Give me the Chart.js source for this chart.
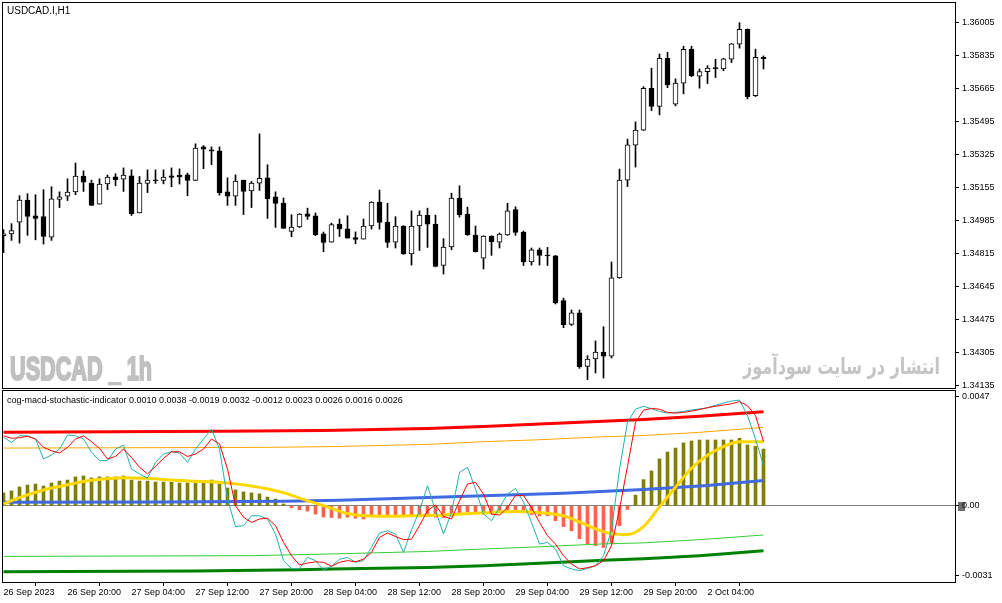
<!DOCTYPE html>
<html><head><meta charset="utf-8">
<script src="https://cdn.jsdelivr.net/npm/chart.js@4.4.0/dist/chart.umd.min.js"></script>
<style>
html,body{margin:0;padding:0;background:#fff;}
#wrap{position:relative;width:1002px;height:603px;overflow:hidden;background:#fff;}
canvas{position:absolute;left:0;}
#c1{top:0;}
#c2{top:389px;}
.t{position:absolute;white-space:nowrap;line-height:1;}
#title{left:7px;top:5px;font:10px "Liberation Sans",Arial,sans-serif;color:#000;}
#ind{left:7px;top:395px;font:9px "Liberation Sans",Arial,sans-serif;color:#000;}
#wm1{left:10px;top:350px;font:bold 33px "Liberation Sans",Arial,sans-serif;color:#c0c0c0;-webkit-text-stroke:2px #c0c0c0;transform-origin:0 0;}
#wm2{left:743px;top:354px;font:bold 22px "DejaVu Sans",sans-serif;color:#c4c4c4;transform-origin:0 0;}
</style></head>
<body>
<div id="wrap">
<canvas id="c1" width="1002" height="390"></canvas>
<canvas id="c2" width="1002" height="214"></canvas>
<div class="t" id="title"></div>
<div class="t" id="ind"></div>
<div class="t" id="wm1"></div>
<div class="t" id="wm2" dir="rtl"></div>
</div>
<script>
// ---------- DATA ----------
const symbolTitle = 'USDCAD.I,H1';
const watermarkLeft = 'USDCAD _ 1h';
const watermarkRight = 'انتشار در سایت سودآموز';
const indicatorName = 'cog-macd-stochastic-indicator';
const indicatorValues = ['0.0010','0.0038','-0.0019','0.0032','-0.0012','0.0023','0.0026','0.0016','0.0026'];

const opens = [1.34908,1.34917,1.34978,1.35091,1.35011,1.35006,1.34901,1.35095,1.35112,1.35133,1.35215,1.35179,1.35071,1.35174,1.35211,1.35199,1.35216,1.35025,1.35177,1.35196,1.35192,1.35216,1.35220,1.35221,1.35192,1.35365,1.35350,1.35345,1.35134,1.35112,1.35194,1.35138,1.35179,1.35206,1.35108,1.35076,1.34930,1.34953,1.35021,1.35011,1.34918,1.34875,1.34968,1.34943,1.34898,1.34891,1.34958,1.35081,1.34978,1.34875,1.34958,1.34814,1.34958,1.35014,1.34968,1.34755,1.34850,1.35102,1.35020,1.34912,1.34793,1.34906,1.34875,1.34912,1.35042,1.34927,1.34773,1.34836,1.34809,1.34805,1.34574,1.34452,1.34512,1.34236,1.34274,1.34310,1.34288,1.34691,1.35194,1.35374,1.35451,1.35667,1.35573,1.35821,1.35585,1.35693,1.35867,1.35729,1.35752,1.35770,1.35766,1.35816,1.35893,1.35970,1.35629,1.35826];
const highs = [1.34939,1.34970,1.35114,1.35124,1.35119,1.35145,1.35160,1.35134,1.35201,1.35282,1.35242,1.35194,1.35201,1.35220,1.35227,1.35257,1.35247,1.35213,1.35247,1.35247,1.35247,1.35257,1.35252,1.35230,1.35381,1.35372,1.35365,1.35365,1.35206,1.35221,1.35194,1.35187,1.35432,1.35273,1.35134,1.35102,1.35016,1.35022,1.35050,1.35025,1.34927,1.34973,1.34994,1.35011,1.34928,1.34994,1.35083,1.35143,1.35075,1.35006,1.34960,1.35036,1.35036,1.35050,1.35014,1.34893,1.35127,1.35165,1.35055,1.34958,1.34908,1.34908,1.34922,1.35075,1.35057,1.34932,1.34845,1.34845,1.34848,1.34807,1.34587,1.34526,1.34526,1.34291,1.34367,1.34440,1.34773,1.35251,1.35405,1.35494,1.35675,1.35770,1.35843,1.35852,1.35715,1.35883,1.35883,1.35766,1.35783,1.35816,1.35821,1.35897,1.36004,1.35972,1.35868,1.35833];
const lows = [1.34821,1.34884,1.34870,1.34910,1.34887,1.34865,1.34884,1.35053,1.35089,1.35119,1.35136,1.35064,1.35071,1.35145,1.35165,1.35136,1.35012,1.35025,1.35130,1.35177,1.35175,1.35160,1.35174,1.35114,1.35192,1.35253,1.35274,1.35117,1.35064,1.35064,1.35017,1.35053,1.35141,1.34997,1.34951,1.34946,1.34903,1.34950,1.34992,1.34908,1.34826,1.34875,1.34904,1.34895,1.34867,1.34891,1.34942,1.34942,1.34848,1.34845,1.34812,1.34757,1.34832,1.34848,1.34748,1.34711,1.34836,1.35004,1.34910,1.34824,1.34737,1.34807,1.34845,1.34910,1.34910,1.34755,1.34757,1.34757,1.34755,1.34557,1.34435,1.34446,1.34226,1.34168,1.34202,1.34176,1.34279,1.34689,1.35161,1.35261,1.35449,1.35552,1.35530,1.35670,1.35576,1.35638,1.35727,1.35667,1.35691,1.35722,1.35757,1.35799,1.35873,1.35612,1.35624,1.35766];
const closes = [1.34918,1.34934,1.35091,1.35007,1.34997,1.34904,1.35098,1.35108,1.35133,1.35215,1.35184,1.35064,1.35174,1.35210,1.35197,1.35220,1.35021,1.35179,1.35194,1.35191,1.35210,1.35208,1.35211,1.35192,1.35359,1.35354,1.35343,1.35130,1.35111,1.35189,1.35136,1.35179,1.35204,1.35099,1.35074,1.34946,1.34953,1.35020,1.35007,1.34913,1.34874,1.34965,1.34943,1.34895,1.34889,1.34958,1.35081,1.34976,1.34874,1.34958,1.34814,1.34958,1.35014,1.34968,1.34750,1.34850,1.35102,1.35017,1.34912,1.34826,1.34906,1.34878,1.34917,1.35036,1.34925,1.34773,1.34836,1.34807,1.34804,1.34562,1.34450,1.34511,1.34235,1.34274,1.34310,1.34288,1.34691,1.35194,1.35376,1.35451,1.35667,1.35573,1.35821,1.35684,1.35693,1.35867,1.35730,1.35752,1.35770,1.35768,1.35818,1.35895,1.35970,1.35624,1.35826,1.35819];

const priceTicks = [1.36005,1.35835,1.35665,1.35495,1.35325,1.35155,1.34985,1.34815,1.34645,1.34475,1.34305,1.34135];
const timeTickIdx = [0,8,16,24,32,40,48,56,64,72,80,88];
const timeTickLabels = ['26 Sep 2023','26 Sep 20:00','27 Sep 04:00','27 Sep 12:00','27 Sep 20:00','28 Sep 04:00','28 Sep 12:00','28 Sep 20:00','29 Sep 04:00','29 Sep 12:00','29 Sep 20:00','2 Oct 04:00'];

const macdHist = [0.00052,0.00060,0.00076,0.00084,0.00088,0.00080,0.00092,0.00100,0.00104,0.00117,0.00121,0.00113,0.00117,0.00117,0.00117,0.00121,0.00104,0.00100,0.00100,0.00096,0.00096,0.00096,0.00092,0.00092,0.00092,0.00100,0.00104,0.00088,0.00072,0.00064,0.00056,0.00052,0.00048,0.00035,0.00027,0.00007,-0.00009,-0.00017,-0.00022,-0.00034,-0.00046,-0.00048,-0.00051,-0.00047,-0.00051,-0.00054,-0.00041,-0.00041,-0.00045,-0.00045,-0.00045,-0.00045,-0.00041,-0.00045,-0.00047,-0.00048,-0.00043,-0.00030,-0.00026,-0.00033,-0.00034,-0.00034,-0.00027,-0.00017,-0.00016,-0.00027,-0.00037,-0.00041,-0.00041,-0.00061,-0.00085,-0.00102,-0.00134,-0.00154,-0.00162,-0.00170,-0.00150,-0.00081,-0.00015,0.00043,0.00106,0.00141,0.00190,0.00218,0.00234,0.00255,0.00263,0.00267,0.00267,0.00267,0.00267,0.00267,0.00274,0.00247,0.00241,0.00230];
const macdSignal = [[0,0.00007],[2,0.00033],[5,0.00064],[8,0.00085],[11,0.00103],[15,0.00114],[18,0.00111],[21,0.00104],[25,0.00098],[28,0.00092],[31,0.00080],[35,0.00053],[37,0.00031],[40,0.00000],[41,-0.00011],[43,-0.00032],[47,-0.00043],[51,-0.00041],[55,-0.00038],[60,-0.00029],[64,-0.00024],[68,-0.00031],[70,-0.00041],[72,-0.00066],[74,-0.00094],[76,-0.00114],[78,-0.00117],[80,-0.00085],[82,-0.00005],[84,0.00075],[86,0.00152],[88,0.00205],[90,0.00240],[92,0.00260],[95,0.00260]];
const stochMain = [0.00278,0.00257,0.00284,0.00284,0.00271,0.00190,0.00206,0.00230,0.00287,0.00284,0.00271,0.00217,0.00183,0.00183,0.00230,0.00246,0.00149,0.00129,0.00112,0.00176,0.00210,0.00219,0.00214,0.00176,0.00230,0.00271,0.00311,0.00230,0.00027,-0.00085,-0.00081,-0.00041,-0.00041,-0.00054,-0.00115,-0.00223,-0.00255,-0.00255,-0.00210,-0.00223,-0.00260,-0.00246,-0.00218,-0.00210,-0.00230,-0.00223,-0.00169,-0.00111,-0.00102,-0.00115,-0.00190,-0.00098,-0.00020,0.00081,-0.00020,-0.00115,-0.00027,0.00135,0.00156,0.00068,-0.00034,-0.00061,-0.00007,0.00047,0.00070,0.00014,-0.00068,-0.00156,-0.00149,-0.00176,-0.00244,-0.00257,-0.00264,-0.00255,-0.00244,-0.00203,-0.00100,0.00148,0.00339,0.00392,0.00404,0.00394,0.00383,0.00376,0.00379,0.00383,0.00389,0.00393,0.00398,0.00408,0.00417,0.00425,0.00429,0.00366,0.00271,0.00163];
const stochSignal = [0.00284,0.00274,0.00276,0.00282,0.00271,0.00237,0.00223,0.00214,0.00237,0.00271,0.00284,0.00260,0.00233,0.00190,0.00200,0.00230,0.00196,0.00156,0.00129,0.00160,0.00192,0.00219,0.00219,0.00200,0.00210,0.00230,0.00271,0.00251,0.00149,0.00000,-0.00047,-0.00068,-0.00054,-0.00051,-0.00081,-0.00149,-0.00203,-0.00241,-0.00233,-0.00228,-0.00230,-0.00246,-0.00230,-0.00223,-0.00228,-0.00217,-0.00190,-0.00129,-0.00111,-0.00125,-0.00138,-0.00136,-0.00081,-0.00020,0.00003,-0.00043,-0.00054,0.00020,0.00088,0.00095,0.00047,-0.00034,-0.00038,-0.00007,0.00041,0.00041,-0.00007,-0.00068,-0.00122,-0.00156,-0.00203,-0.00237,-0.00257,-0.00252,-0.00244,-0.00223,-0.00163,-0.00014,0.00160,0.00338,0.00388,0.00395,0.00392,0.00379,0.00376,0.00379,0.00384,0.00391,0.00398,0.00404,0.00409,0.00414,0.00423,0.00406,0.00366,0.00261];

const cogCenter = [[0,0.00014],[20,0.00015],[35,0.00018],[42,0.00022],[50,0.00030],[60,0.00040],[70,0.00051],[80,0.00066],[88,0.00082],[95,0.00102]];
const cogUpperOuter = [[0,0.00298],[27,0.00302],[40,0.00305],[53,0.00314],[60,0.00322],[67,0.00332],[75,0.00343],[80,0.00350],[87,0.00363],[95,0.00382]];
const cogUpperInner = [[0,0.00234],[33,0.00237],[41,0.00240],[53,0.00249],[60,0.00260],[67,0.00268],[75,0.00280],[80,0.00285],[87,0.00298],[95,0.00318]];
const cogLowerInner = [[0,-0.00206],[31,-0.00203],[41,-0.00196],[53,-0.00186],[60,-0.00176],[67,-0.00167],[75,-0.00155],[80,-0.00151],[87,-0.00138],[95,-0.00119]];
const cogLowerOuter = [[0,-0.00268],[24,-0.00265],[37,-0.00260],[41,-0.00257],[53,-0.00251],[60,-0.00244],[67,-0.00234],[75,-0.00222],[80,-0.00216],[87,-0.00203],[95,-0.00183]];

const lowerTickVals = [0.00444, 0, -0.00282];
const lowerTickLabels = ['0.0047', '0.00', '-0.0031'];

// ---------- TEXT ----------
document.getElementById('title').textContent = symbolTitle;
document.getElementById('ind').textContent = indicatorName + ' ' + indicatorValues.join(' ');
document.getElementById('wm1').textContent = watermarkLeft;
document.getElementById('wm2').textContent = watermarkRight;
function fitWidth(id, w){
  const el = document.getElementById(id);
  el.style.transform = 'none';
  const cw = el.getBoundingClientRect().width;
  if (cw > 0) el.style.transform = 'scaleX(' + (w / cw) + ')';
}
fitWidth('wm1', 142); fitWidth('wm2', 197);
if (document.fonts && document.fonts.ready) document.fonts.ready.then(()=>{fitWidth('wm1',142); fitWidth('wm2',197);});

// ---------- CHARTS ----------
Chart.defaults.font.family = '"Liberation Sans", Arial, sans-serif';
Chart.defaults.color = '#000';
const xMin = -0.1875, xMax = xMin + 953 / 8;
const tickFont = {family:'"Liberation Sans", Arial, sans-serif', size:9};

const framePlugin = {
  id:'frame',
  afterDraw(chart){
    const {ctx, chartArea:a} = chart;
    ctx.save();
    ctx.strokeStyle = '#000'; ctx.lineWidth = 1;
    ctx.strokeRect(Math.round(a.left)+0.5, Math.round(a.top)+0.5, Math.round(a.right-a.left), Math.round(a.bottom-a.top));
    ctx.restore();
  }
};
const zeroBoxPlugin = {
  id:'zerobox',
  beforeDraw(chart){
    const y = chart.scales.y.getPixelForValue(0);
    const ctx = chart.ctx;
    ctx.save(); ctx.fillStyle = '#6e6e6e';
    ctx.fillRect(chart.chartArea.right + 3, Math.round(y) - 4, 7, 9);
    ctx.restore();
  }
};
function noPad(s){ s.paddingTop = 0; s.paddingBottom = 0; s.paddingLeft = 0; s.paddingRight = 0; }

const idx = opens.map((_, i) => i);
new Chart(document.getElementById('c1'), {
  type:'bar',
  data:{datasets:[
    {data: idx.map(i => ({x:i, y:[lows[i], highs[i]]})), backgroundColor:'#000', borderWidth:0, barThickness:1, grouped:false, order:2, minBarLength:1},
    {data: idx.map(i => ({x:i, y:[Math.min(opens[i], closes[i]), Math.max(opens[i], closes[i])]})),
     backgroundColor: c => closes[c.dataIndex] >= opens[c.dataIndex] ? '#ffffff' : '#000000',
     borderColor:'#000', borderWidth:1, borderSkipped:false, barThickness:5, grouped:false, order:1, minBarLength:1}
  ]},
  options:{
    responsive:false, animation:false, devicePixelRatio:1,
    layout:{padding:{left:2, top:2, bottom:2, right:0}},
    plugins:{legend:{display:false}, tooltip:{enabled:false}},
    scales:{
      x:{type:'linear', min:xMin, max:xMax, display:false, offset:false},
      y:{position:'right', min:1.341247, max:1.361105,
         afterFit(s){ s.width = 47; noPad(s); },
         afterBuildTicks(s){ s.ticks = priceTicks.map(v => ({value:v})); },
         ticks:{callback:v => Number(v).toFixed(5), padding:3, color:'#000', font:tickFont, autoSkip:false},
         grid:{display:true, drawOnChartArea:false, drawTicks:true, tickLength:4, color:'#000', tickColor:'#000'},
         border:{display:false}}
    }
  },
  plugins:[framePlugin]
});

const pts = arr => arr.map(([x, y]) => ({x, y}));
const line = (data, color, width, order, extra) => Object.assign({type:'line', data, borderColor:color, borderWidth:width, pointRadius:0, fill:false, tension:0, order}, extra || {});

new Chart(document.getElementById('c2'), {
  type:'bar',
  data:{datasets:[
    {type:'bar', data: macdHist.map((v, i) => ({x:i, y:v})),
     backgroundColor: c => (c.raw && c.raw.y >= 0) ? '#808000' : '#FF6347',
     borderWidth:0, barThickness:3, grouped:false, order:20},
    line(pts(cogUpperOuter), '#FF0000', 3, 15),
    line(pts(cogUpperInner), '#FFA500', 1, 14),
    line(pts(cogLowerInner), '#32CD32', 1, 13),
    line(pts(cogLowerOuter), '#008000', 3, 12),
    line(pts(cogCenter), '#4169E1', 3, 11),
    line(pts(macdSignal), '#FFD700', 3, 10, {cubicInterpolationMode:'monotone'}),
    line(stochMain.map((v, i) => ({x:i, y:v})), '#20B2AA', 1, 9),
    line(stochSignal.map((v, i) => ({x:i, y:v})), '#FF0000', 1, 8)
  ]},
  options:{
    responsive:false, animation:false, devicePixelRatio:1,
    layout:{padding:{left:2, top:1, bottom:0, right:0}},
    plugins:{legend:{display:false}, tooltip:{enabled:false}},
    scales:{
      x:{type:'linear', min:xMin, max:xMax, offset:false,
         afterFit(s){ s.height = 21; noPad(s); },
         afterBuildTicks(s){ s.ticks = timeTickIdx.map(v => ({value:v})); },
         ticks:{callback:(v, i) => timeTickLabels[i], align:'start', labelOffset:0, padding:1, maxRotation:0, minRotation:0, autoSkip:false, color:'#000', font:tickFont},
         grid:{display:true, drawOnChartArea:false, drawTicks:true, tickLength:4, color:'#000', tickColor:'#000'},
         border:{display:false}},
      y:{position:'right', min:-0.0031, max:0.0047,
         afterFit(s){ s.width = 47; noPad(s); },
         afterBuildTicks(s){ s.ticks = lowerTickVals.map(v => ({value:v})); },
         ticks:{callback:(v, i) => lowerTickLabels[i], padding:3, color:'#000', font:tickFont, autoSkip:false},
         grid:{display:true, drawOnChartArea:true, drawTicks:true, tickLength:4,
               color: c => (c.tick && c.tick.value === 0) ? '#808080' : 'rgba(0,0,0,0)', tickColor:'#000'},
         border:{display:false}}
    }
  },
  plugins:[framePlugin, zeroBoxPlugin]
});
</script>
</body></html>
